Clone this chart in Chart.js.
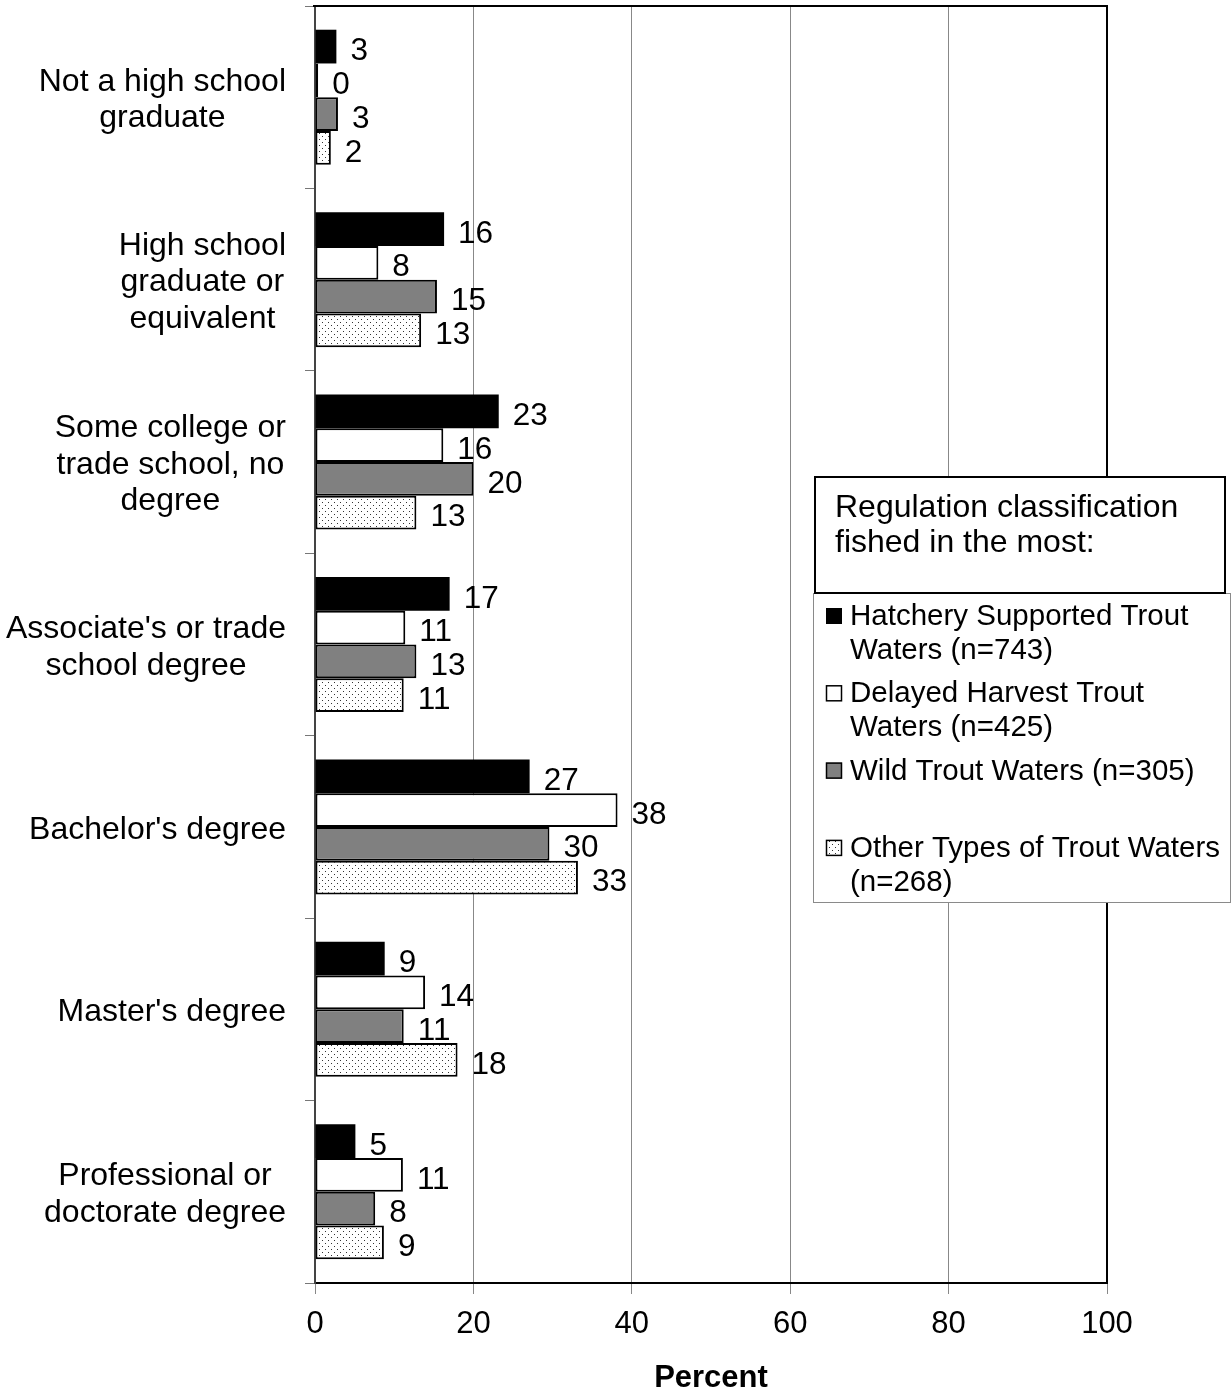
<!DOCTYPE html>
<html>
<head>
<meta charset="utf-8">
<script src="https://cdn.jsdelivr.net/npm/chart.js@4.4.0/dist/chart.umd.min.js"></script>
<style>
  html, body { margin: 0; padding: 0; background: #fff; }
  #chart { display: block; }
</style>
</head>
<body>
<canvas id="chart" width="1231" height="1391"></canvas>
<script>
// Education level by regulation classification (percent)
const categories = [
  ["Not a high school", "graduate"],
  ["High school", "graduate or", "equivalent"],
  ["Some college or", "trade school, no", "degree"],
  ["Associate's or trade", "school degree"],
  ["Bachelor's degree"],
  ["Master's degree"],
  ["Professional or", "doctorate degree"]
];

const seriesNames = [
  ["Hatchery Supported Trout", "Waters (n=743)"],
  ["Delayed Harvest Trout", "Waters (n=425)"],
  ["Wild Trout Waters (n=305)"],
  ["Other Types of Trout Waters", "(n=268)"]
];

const hatchery = [2.7, 16.3, 23.2, 17.0, 27.1, 8.8, 5.1];
const delayed  = [0.4, 8.0, 16.2, 11.4, 38.2, 13.9, 11.1];
const wild     = [2.9, 15.4, 20.0, 12.8, 29.6, 11.2, 7.6];
const other    = [2.0, 13.4, 12.8, 11.2, 33.2, 18.0, 8.7];

const xTicks = [0, 20, 40, 60, 80, 100];

const FONT = "'Liberation Sans', Arial, sans-serif";
const canvas = document.getElementById("chart");
const ctx = canvas.getContext("2d");

// white background with small dark dots
function dotPattern(c) {
  const t = document.createElement("canvas");
  t.width = 6; t.height = 6;
  const g = t.getContext("2d");
  g.fillStyle = "#fff";
  g.fillRect(0, 0, 6, 6);
  g.fillStyle = "#333";
  g.fillRect(1, 1, 1, 1);
  g.fillRect(4, 4, 1, 1);
  return c.createPattern(t, "repeat");
}
const dots = dotPattern(ctx);

const fills = ["#000000", "#ffffff", "#808080", dots];

// top and right edges of the plot box
const framePlugin = {
  id: "frame",
  afterDatasetsDraw(chart) {
    const a = chart.chartArea, c = chart.ctx;
    c.save();
    c.strokeStyle = "#000";
    c.lineWidth = 2;
    c.beginPath();
    c.moveTo(a.left - 2, a.top);
    c.lineTo(a.right, a.top);
    c.lineTo(a.right, a.bottom);
    c.stroke();
    c.restore();
  }
};

// numbers at the end of each bar
const valueLabels = {
  id: "valueLabels",
  afterDatasetsDraw(chart) {
    const c = chart.ctx;
    c.save();
    c.font = "31.5px " + FONT;
    c.fillStyle = "#000";
    c.textAlign = "left";
    c.textBaseline = "middle";
    chart.data.datasets.forEach((ds, i) => {
      chart.getDatasetMeta(i).data.forEach((bar, j) => {
        c.fillText(String(Math.round(ds.data[j])), bar.x + 14, bar.y + 5);
      });
    });
    c.restore();
  }
};

// category names, lines centred inside a right-aligned block
const categoryLabels = {
  id: "categoryLabels",
  afterDraw(chart) {
    const c = chart.ctx, y = chart.scales.y;
    const right = chart.chartArea.left - 29;
    const lh = 36.5;
    c.save();
    c.font = "32px " + FONT;
    c.fillStyle = "#000";
    c.textAlign = "center";
    c.textBaseline = "middle";
    categories.forEach((lines, i) => {
      const w = Math.max(...lines.map(l => c.measureText(l).width));
      const cx = right - w / 2;
      const cy = y.getPixelForValue(i) + 3;
      lines.forEach((l, k) => {
        c.fillText(l, cx, cy + (k - (lines.length - 1) / 2) * lh);
      });
    });
    c.restore();
  }
};

// boxed legend with a separate title box
const legendBox = {
  id: "legendBox",
  afterDraw(chart) {
    const c = chart.ctx;
    c.save();
    // item box
    c.fillStyle = "#fff";
    c.fillRect(813, 593, 418, 309);
    c.strokeStyle = "#8a8a8a";
    c.lineWidth = 1;
    c.strokeRect(813.5, 593.5, 417, 309);
    // title box
    c.fillRect(815, 477, 410, 116);
    c.strokeStyle = "#000";
    c.lineWidth = 2;
    c.strokeRect(815, 477, 410, 116);

    c.fillStyle = "#000";
    c.textAlign = "left";
    c.textBaseline = "middle";
    c.font = "32px " + FONT;
    c.fillText("Regulation classification", 835, 508);
    c.fillText("fished in the most:", 835, 543);

    c.font = "29.5px " + FONT;
    seriesNames.forEach((lines, i) => {
      const y0 = 617 + i * 77.3;
      c.fillStyle = fills[i];
      c.fillRect(826, y0 - 9, 16, 16);
      if (i > 0) {
        c.strokeStyle = "#000";
        c.lineWidth = 1.5;
        c.strokeRect(826.5, y0 - 8.5, 15, 15);
      }
      c.fillStyle = "#000";
      lines.forEach((l, k) => c.fillText(l, 850, y0 + k * 34));
    });
    c.restore();
  }
};

new Chart(ctx, {
  type: "bar",
  data: {
    labels: categories,
    datasets: seriesNames.map((name, i) => ({
      label: name.join(" "),
      data: [hatchery, delayed, wild, other][i],
      backgroundColor: fills[i],
      borderColor: "#000",
      borderWidth: i === 0 ? 0 : 2,
      borderSkipped: false,
      categoryPercentage: 0.74,
      barPercentage: 1
    }))
  },
  options: {
    indexAxis: "y",
    responsive: false,
    animation: false,
    devicePixelRatio: 1,
    layout: { padding: { left: 0, right: 124, top: 6, bottom: 0 } },
    plugins: {
      legend: { display: false },
      tooltip: { enabled: false }
    },
    scales: {
      x: {
        min: 0,
        max: 100,
        afterBuildTicks: s => { s.ticks = xTicks.map(v => ({ value: v })); },
        ticks: { font: { size: 31, family: FONT }, color: "#000", padding: 12 },
        grid: { color: "#888", lineWidth: 1, tickLength: 11 },
        border: { color: "#000", width: 2 },
        title: {
          display: true,
          text: "Percent",
          color: "#000",
          font: { size: 31, weight: "bold", family: FONT, lineHeight: 0.8 },
          padding: 0
        },
        afterFit: s => { s.height = 108; }
      },
      y: {
        offset: true,
        ticks: { display: false },
        grid: { offset: true, drawOnChartArea: false, tickLength: 10, color: "#777" },
        border: { color: "#444", width: 2 },
        afterFit: s => { s.width = 315; }
      }
    }
  },
  plugins: [framePlugin, valueLabels, categoryLabels, legendBox]
});
</script>
</body>
</html>
